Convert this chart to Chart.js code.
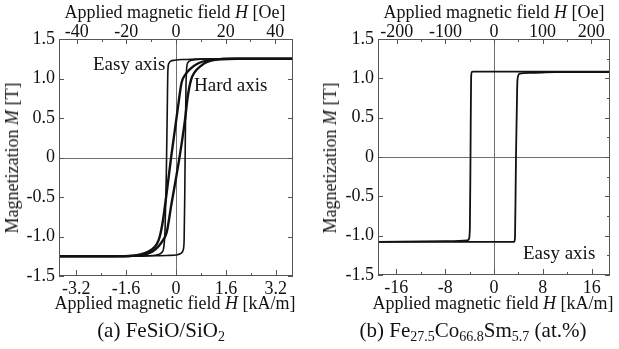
<!DOCTYPE html>
<html lang="en">
<head>
<meta charset="UTF-8">
<title>Hysteresis loops</title>
<script src="https://cdn.jsdelivr.net/npm/chart.js@4/dist/chart.umd.min.js"></script>
<style>
  body { margin: 0; background: #fff; }
  #wrap { position: relative; width: 619px; height: 349px; overflow: hidden;
          font-family: "Liberation Serif", "Times New Roman", serif; font-size: 18px; color: #111; }
  canvas { position: absolute; top: 0; }
  #ca { left: 0; }
  #cb { left: 310px; }
  .t  { position: absolute; white-space: nowrap; line-height: 1; transform: translate(-50%, -50%); }
  .cap { font-size: 21px; }
  .l  { position: absolute; white-space: nowrap; line-height: 1; transform: translateY(-50%); font-size: 19px; }
  .yt { position: absolute; white-space: nowrap; line-height: 1; transform: translate(-50%, -50%) rotate(-90deg); }
  sub { font-size: 14px; vertical-align: -4px; line-height: 0; }
</style>
</head>
<body>
<div id="wrap">
  <canvas id="ca" width="310" height="349"></canvas>
  <canvas id="cb" width="309" height="349"></canvas>

  <div class="t" style="left:175px; top:12px;">Applied magnetic field <i>H</i> [Oe]</div>
  <div class="t" style="left:175px; top:303px;">Applied magnetic field <i>H</i> [kA/m]</div>
  <div class="t cap" style="left:161px; top:330px;">(a) FeSiO/SiO<sub>2</sub></div>
  <div class="yt" style="left:12px; top:158px;">Magnetization <i>M</i> [T]</div>
  <div class="l" style="left:93px; top:63px;">Easy axis</div>
  <div class="l" style="left:194px; top:84px;">Hard axis</div>

  <div class="t" style="left:494px; top:12px;">Applied magnetic field <i>H</i> [Oe]</div>
  <div class="t" style="left:493px; top:303px;">Applied magnetic field <i>H</i> [kA/m]</div>
  <div class="t cap" style="left:473px; top:330px;">(b) Fe<sub>27.5</sub>Co<sub>66.8</sub>Sm<sub>5.7</sub> (at.%)</div>
  <div class="yt" style="left:330px; top:158px;">Magnetization <i>M</i> [T]</div>
  <div class="l" style="left:523px; top:252px;">Easy axis</div>
</div>

<script>
// ---- data: panel (a) FeSiO/SiO2, H in kA/m, M in T ----
const aEasyDownH = [3.75, 1.5, 0.6, 0.2, -0.05, -0.17, -0.23, -0.26, -0.28, -0.31, -0.35, -0.39, -0.45, -0.6, -1.0, -2.0, -3.75];
const aEasyDownM = [1.25, 1.25, 1.245, 1.24, 1.23, 1.22, 1.19, 1.1, 0.6, -0.2, -0.9, -1.13, -1.2, -1.23, -1.245, -1.25, -1.25];
const aEasyUpH   = [-3.75, -2.0, -1.0, -0.3, 0.05, 0.17, 0.23, 0.26, 0.28, 0.3, 0.32, 0.34, 0.38, 0.5, 0.8, 1.5, 3.75];
const aEasyUpM   = [-1.25, -1.25, -1.245, -1.24, -1.23, -1.21, -1.17, -1.05, -0.5, 0.3, 0.9, 1.12, 1.2, 1.23, 1.245, 1.25, 1.25];
const aHardDownH = [3.75, 2.0, 1.4, 1.0, 0.7, 0.45, 0.3, 0.18, 0.05, -0.15, -0.3, -0.42, -0.52, -0.62, -0.8, -1.0, -1.3, -1.8, -3.75];
const aHardDownM = [1.25, 1.25, 1.245, 1.23, 1.19, 1.12, 1.05, 0.95, 0.6, 0.02, -0.45, -0.8, -1.0, -1.1, -1.17, -1.21, -1.24, -1.25, -1.25];
const aHardUpH   = [-3.75, -2.0, -1.4, -1.0, -0.75, -0.55, -0.42, -0.3, -0.15, 0.12, 0.28, 0.38, 0.48, 0.6, 0.8, 1.0, 1.3, 1.8, 3.75];
const aHardUpM   = [-1.25, -1.25, -1.245, -1.23, -1.19, -1.12, -1.05, -0.95, -0.6, 0.02, 0.45, 0.78, 0.98, 1.08, 1.16, 1.21, 1.24, 1.25, 1.25];

// ---- data: panel (b) Fe27.5Co66.8Sm5.7 ----
const bDownH = [19, 10, 0, -3.4, -3.65, -3.75, -3.85, -3.95, -4.1, -4.4, -8, -19];
const bDownM = [1.085, 1.085, 1.085, 1.085, 1.08, 1.0, 0.0, -0.9, -1.04, -1.06, -1.07, -1.08];
const bUpH   = [-19, -10, 0, 3.2, 3.35, 3.45, 3.6, 3.8, 3.95, 4.2, 6, 10, 19];
const bUpM   = [-1.08, -1.08, -1.08, -1.08, -1.07, -1.0, 0.0, 0.9, 1.03, 1.06, 1.07, 1.078, 1.08];

// ---- ticks ----
const aKamTicks   = [-3.2, -1.6, 0, 1.6, 3.2];
const aKamMinor   = [-2.4, -0.8, 0.8, 2.4];
const aOeTicks    = [-40, -20, 0, 20, 40];
const aOeMinor    = [-30, -10, 10, 30];
const bKamTicks   = [-16, -8, 0, 8, 16];
const bKamMinor   = [-12, -4, 4, 12];
const bOeTicks    = [-200, -100, 0, 100, 200];
const bOeMinor    = [-150, -50, 50, 150];
const mTicks      = [-1.5, -1.0, -0.5, 0, 0.5, 1.0, 1.5];
const aMMinor     = [];
const bMMinor     = [-1.25, -0.75, -0.25, 0.25, 0.75, 1.25];

const OE_PER_KAM = 4 * Math.PI;   // 1 kA/m = 12.566 Oe
const AXIS = '#555';
const FONT = { family: '"Liberation Serif", "Times New Roman", serif', size: 18, lineHeight: 1 };

function pts(h, m) { return h.map((v, i) => ({ x: v, y: m[i] })); }

function setTicks(major, minor) {
  return s => {
    s.ticks = major.concat(minor).sort((p, q) => p - q)
      .map(v => ({ value: v, major: major.includes(v) }));
  };
}
function label(fmt) {
  return (v, i, ticks) => ticks[i].major ? fmt(v) : '';
}

// inward tick marks, frame and zero lines
const frame = {
  id: 'frame',
  beforeDatasetsDraw(chart) {
    const { ctx, chartArea: a, scales } = chart;
    const x0 = Math.round(scales.x.getPixelForValue(0)) + 0.5;
    const y0 = Math.round(scales.y.getPixelForValue(0)) + 0.5;
    ctx.save();
    ctx.strokeStyle = '#707070';
    ctx.lineWidth = 1;
    ctx.beginPath();
    ctx.moveTo(x0, a.top); ctx.lineTo(x0, a.bottom);
    ctx.moveTo(a.left, y0); ctx.lineTo(a.right, y0);
    ctx.stroke();
    ctx.restore();
  },
  afterDatasetsDraw(chart) {
    const { ctx, chartArea: a, scales } = chart;
    ctx.save();
    ctx.strokeStyle = AXIS;
    ctx.lineWidth = 1;
    ctx.beginPath();
    for (const t of scales.x.ticks) {
      const p = Math.round(scales.x.getPixelForValue(t.value)) + 0.5;
      const len = t.major ? 6 : 3;
      ctx.moveTo(p, a.bottom); ctx.lineTo(p, a.bottom - len);
    }
    for (const t of scales.x2.ticks) {
      const p = Math.round(scales.x2.getPixelForValue(t.value)) + 0.5;
      const len = t.major ? 5 : 3;
      ctx.moveTo(p, a.top); ctx.lineTo(p, a.top + len);
    }
    for (const t of scales.y.ticks) {
      const p = Math.round(scales.y.getPixelForValue(t.value)) + 0.5;
      if (t.major) { ctx.moveTo(a.left, p); ctx.lineTo(a.left + 5, p); }
      const len = t.major ? 5 : 3;
      ctx.moveTo(a.right, p); ctx.lineTo(a.right - len, p);
    }
    ctx.stroke();
    ctx.strokeRect(Math.round(a.left) + 0.5, Math.round(a.top) + 0.5,
                   Math.round(a.width) - 1, Math.round(a.height) - 1);
    ctx.restore();
  }
};

function line(data, width) {
  return {
    data, showLine: true, borderColor: '#111', borderWidth: width,
    pointRadius: 0, cubicInterpolationMode: 'monotone', fill: false
  };
}

function makeChart(el, cfg) {
  const hidden = { display: false };
  const noGrid = { display: false, drawTicks: false };
  return new Chart(el, {
    type: 'scatter',
    data: { datasets: cfg.datasets },
    options: {
      responsive: false,
      animation: false,
      layout: { padding: { left: 0, right: cfg.padRight, top: 0, bottom: 0 } },
      plugins: { legend: hidden, tooltip: { enabled: false } },
      scales: {
        x: {
          type: 'linear', position: 'bottom', min: -cfg.hMax, max: cfg.hMax,
          grid: noGrid, border: hidden,
          afterBuildTicks: setTicks(cfg.kamTicks, cfg.kamMinor),
          afterFit: s => { s.height = cfg.bottomH; },
          ticks: { autoSkip: false, maxRotation: 0, padding: 4, color: '#111', font: FONT,
                   callback: label(v => String(v)) }
        },
        x2: {
          type: 'linear', position: 'top',
          min: -cfg.hMax * OE_PER_KAM, max: cfg.hMax * OE_PER_KAM,
          grid: noGrid, border: hidden,
          afterBuildTicks: setTicks(cfg.oeTicks, cfg.oeMinor),
          afterFit: s => { s.height = cfg.topH; },
          ticks: { autoSkip: false, maxRotation: 0, padding: -2, color: '#111', font: FONT,
                   callback: label(v => String(v)) }
        },
        y: {
          type: 'linear', position: 'left', min: -1.5, max: 1.5,
          grid: noGrid, border: hidden,
          afterBuildTicks: setTicks(mTicks, cfg.mMinor),
          afterFit: s => { s.width = cfg.leftW; },
          ticks: { autoSkip: false, padding: 4, color: '#111', font: FONT,
                   callback: label(v => v === 0 ? '0' : v.toFixed(1)) }
        }
      }
    },
    plugins: [frame]
  });
}

makeChart(document.getElementById('ca'), {
  hMax: 3.75, padRight: 17, topH: 39, bottomH: 73, leftW: 59,
  kamTicks: aKamTicks, kamMinor: aKamMinor, oeTicks: aOeTicks, oeMinor: aOeMinor, mMinor: aMMinor,
  datasets: [
    line(pts(aEasyDownH, aEasyDownM), 1.6),
    line(pts(aEasyUpH, aEasyUpM), 1.6),
    line(pts(aHardDownH, aHardDownM), 2.4),
    line(pts(aHardUpH, aHardUpM), 2.4)
  ]
});

makeChart(document.getElementById('cb'), {
  hMax: 19, padRight: 9, topH: 39, bottomH: 74, leftW: 68,
  kamTicks: bKamTicks, kamMinor: bKamMinor, oeTicks: bOeTicks, oeMinor: bOeMinor, mMinor: bMMinor,
  datasets: [
    line(pts(bDownH, bDownM), 1.8),
    line(pts(bUpH, bUpM), 1.8)
  ]
});
</script>
</body>
</html>
